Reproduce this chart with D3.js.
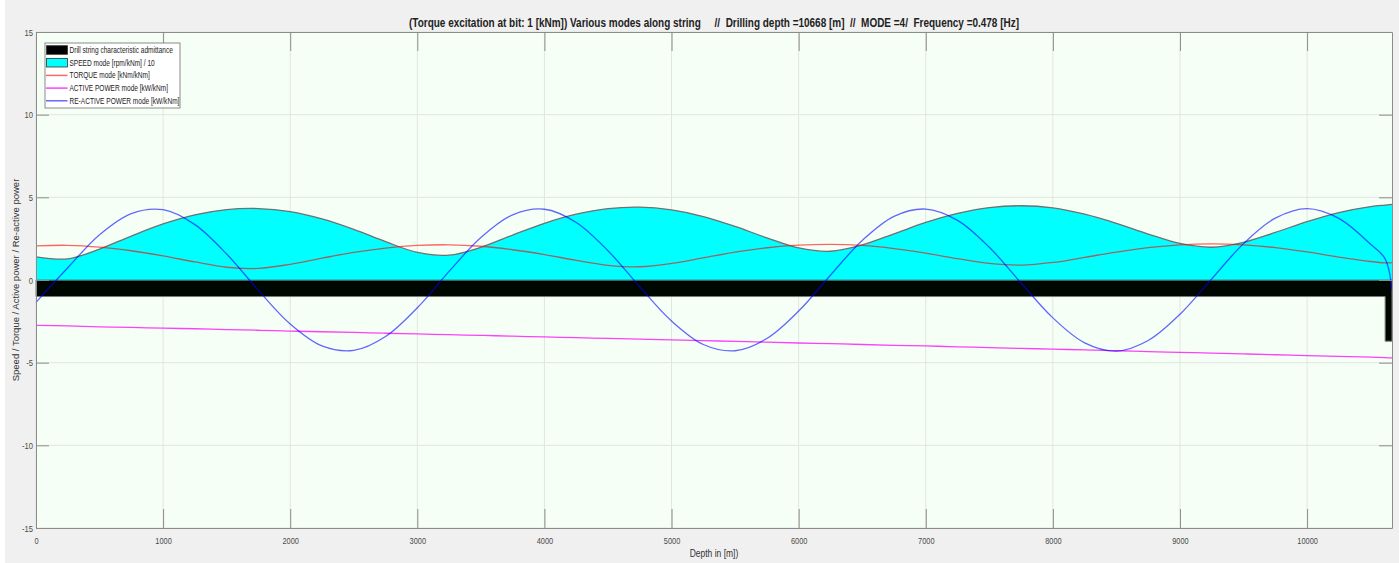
<!DOCTYPE html>
<html>
<head>
<meta charset="utf-8">
<script src="https://cdn.jsdelivr.net/npm/d3@7"></script>
<style>
  body { margin: 0; background: #ffffff; }
  text { font-family: "Liberation Sans Narrow", "Arial Narrow", "Liberation Sans", Arial, sans-serif; }
</style>
</head>
<body>
<script>
// depth along the string [m]
const depth = [0, 250, 500, 750, 1000, 1250, 1500, 1750, 2000, 2250, 2500, 2750, 3000, 3250, 3500, 3750,
  4000, 4250, 4500, 4750, 5000, 5250, 5500, 5750, 6000, 6250, 6500, 6750, 7000, 7250, 7500, 7750,
  8000, 8250, 8500, 8750, 9000, 9250, 9500, 9750, 10000, 10250, 10500, 10614, 10668];

// SPEED mode [rpm/kNm] / 10
const speed = [1.40, 1.28, 1.87, 2.66, 3.39, 3.94, 4.26, 4.32, 4.13, 3.69, 3.06, 2.32, 1.67, 1.50, 1.98, 2.72,
  3.43, 3.98, 4.32, 4.41, 4.24, 3.84, 3.24, 2.55, 1.94, 1.74, 2.12, 2.79, 3.48, 4.03, 4.38, 4.49,
  4.36, 3.98, 3.43, 2.78, 2.21, 1.98, 2.27, 2.88, 3.53, 4.08, 4.44, 4.53, 4.57];

// TORQUE mode [kNm/kNm]
const torque = [2.07, 2.10, 1.99, 1.77, 1.46, 1.09, 0.77, 0.70, 0.95, 1.32, 1.67, 1.93, 2.09, 2.13, 2.04, 1.83,
  1.54, 1.19, 0.89, 0.80, 1.00, 1.34, 1.68, 1.95, 2.11, 2.16, 2.09, 1.90, 1.62, 1.29, 1.00, 0.90,
  1.06, 1.37, 1.69, 1.96, 2.13, 2.19, 2.13, 1.96, 1.70, 1.39, 1.12, 1.04, 1.05];

// ACTIVE POWER mode [kW/kNm]
const activePower = [-2.74, -2.78, -2.83, -2.87, -2.91, -2.95, -3.00, -3.04, -3.09, -3.13, -3.17, -3.22, -3.26, -3.31, -3.35, -3.40,
  -3.44, -3.49, -3.53, -3.58, -3.62, -3.67, -3.71, -3.76, -3.81, -3.85, -3.90, -3.95, -3.99, -4.04, -4.09, -4.14,
  -4.18, -4.23, -4.28, -4.33, -4.38, -4.42, -4.47, -4.52, -4.57, -4.62, -4.67, -4.69, -4.71];

// RE-ACTIVE POWER mode [kW/kNm]
const reactivePower = [-1.35, 0.74, 2.74, 4.02, 4.25, 3.35, 1.57, -0.63, -2.66, -3.99, -4.26, -3.42, -1.68, 0.52, 2.57, 3.94,
  4.28, 3.48, 1.77, -0.41, -2.48, -3.90, -4.28, -3.54, -1.88, 0.29, 2.39, 3.85, 4.29, 3.61, 1.98, -0.18,
  -2.29, -3.80, -4.30, -3.66, -2.07, 0.07, 2.20, 3.74, 4.32, 3.73, 2.16, 1.28, -0.60];

// drill string characteristic admittance (drill pipe, then BHA)
const admDepth = [0, 10614, 10668];
const admittance = [1.0, 3.7, 3.7];

const xTicks = [0, 1000, 2000, 3000, 4000, 5000, 6000, 7000, 8000, 9000, 10000];
const yTicks = [-15, -10, -5, 0, 5, 10, 15];

const legendLabels = [
  'Drill string characteristic admittance',
  'SPEED mode [rpm/kNm] / 10',
  'TORQUE mode [kNm/kNm]',
  'ACTIVE POWER mode [kW/kNm]',
  'RE-ACTIVE POWER mode [kW/kNm]'
];

const titleText = '(Torque excitation at bit: 1 [kNm]) Various modes along string     //  Drilling depth =10668 [m]  //  MODE =4/  Frequency =0.478 [Hz]';

const W = 1399, H = 563;
const mLeft = 36, mRight = 1392, mTop = 32, mBottom = 528;

const svg = d3.select('body').append('svg')
  .attr('width', W)
  .attr('height', H);

// squeeze text horizontally (no narrow font available)
function narrow(sel, k) {
  sel.each(function () {
    const L = this.getComputedTextLength();
    d3.select(this).attr('textLength', L * k).attr('lengthAdjust', 'spacingAndGlyphs');
  });
}

// figure background
svg.append('rect').attr('x', 5).attr('y', 0).attr('width', W - 5).attr('height', H).attr('fill', '#f0f0f0');

const x = d3.scaleLinear().domain([0, 10668]).range([mLeft, mRight]);
const y = d3.scaleLinear().domain([-15, 15]).range([mBottom, mTop]);

// axes background
svg.append('rect')
  .attr('x', mLeft).attr('y', mTop)
  .attr('width', mRight - mLeft).attr('height', mBottom - mTop)
  .attr('fill', '#f6fff6');

// grid
const grid = svg.append('g').attr('stroke', '#dfe6df').attr('stroke-width', 1);
grid.selectAll('.gx').data(xTicks).enter().append('line')
  .attr('x1', d => x(d)).attr('x2', d => x(d))
  .attr('y1', mTop).attr('y2', mBottom);
grid.selectAll('.gy').data(yTicks).enter().append('line')
  .attr('x1', mLeft).attr('x2', mRight)
  .attr('y1', d => y(d)).attr('y2', d => y(d));

const rows = depth.map((d, i) => ({
  d: d, s: speed[i], t: torque[i], p: activePower[i], q: reactivePower[i]
}));
const admRows = admDepth.map((d, i) => ({ d: d, v: admittance[i] }));

const plot = svg.append('g');

// admittance (black block below zero)
plot.append('path')
  .datum(admRows)
  .attr('d', d3.area().x(r => x(r.d)).y0(y(0)).y1(r => y(-r.v)).curve(d3.curveStepAfter))
  .attr('fill', '#000600')
  .attr('stroke', '#7a7a7a')
  .attr('stroke-width', 1);

// speed mode (cyan area)
plot.append('path')
  .datum(rows)
  .attr('d', d3.area().x(r => x(r.d)).y0(y(0)).y1(r => y(r.s)).curve(d3.curveCatmullRom))
  .attr('fill', '#00ffff')
  .attr('stroke', 'none');
plot.append('path')
  .datum(rows)
  .attr('d', d3.line().x(r => x(r.d)).y(r => y(r.s)).curve(d3.curveCatmullRom))
  .attr('fill', 'none')
  .attr('stroke', '#707070')
  .attr('stroke-width', 1.3);
plot.append('line')
  .attr('x1', x(0)).attr('x2', x(10668))
  .attr('y1', y(0)).attr('y2', y(0))
  .attr('stroke', '#3f8a8a').attr('stroke-width', 1);

function drawLine(key, color, op) {
  plot.append('path')
    .datum(rows)
    .attr('d', d3.line().x(r => x(r.d)).y(r => y(r[key])).curve(d3.curveCatmullRom))
    .attr('fill', 'none')
    .attr('stroke', color)
    .attr('stroke-opacity', op)
    .attr('stroke-width', 1.3);
}
drawLine('t', '#ff0000', 0.6);
drawLine('p', '#ff00ff', 0.75);
drawLine('q', '#0000ff', 0.6);

// axes, ticks pointing inward
const axisColor = '#8c8c8c';
const fmt = d => String(d);
const gx = svg.append('g').attr('transform', `translate(0,${mBottom})`)
  .call(d3.axisBottom(x).tickValues(xTicks).tickSizeInner(-19).tickSizeOuter(0).tickPadding(9).tickFormat(fmt));
const gxt = svg.append('g').attr('transform', `translate(0,${mTop})`)
  .call(d3.axisTop(x).tickValues(xTicks).tickSizeInner(-19).tickSizeOuter(0).tickFormat(''));
const gy = svg.append('g').attr('transform', `translate(${mLeft},0)`)
  .call(d3.axisLeft(y).tickValues(yTicks).tickSizeInner(-13).tickSizeOuter(0).tickPadding(3).tickFormat(fmt));
const gyr = svg.append('g').attr('transform', `translate(${mRight},0)`)
  .call(d3.axisRight(y).tickValues(yTicks).tickSizeInner(-13).tickSizeOuter(0).tickFormat(''));

[gx, gxt, gy, gyr].forEach(g => {
  g.select('.domain').attr('stroke', axisColor);
  g.selectAll('.tick line').attr('stroke', axisColor);
  g.selectAll('.tick text').attr('fill', '#4a4a4a').attr('font-size', 9.5)
    .attr('font-family', '"Liberation Sans Narrow", "Liberation Sans", Arial, sans-serif');
});
narrow(gx.selectAll('.tick text'), 0.78);
narrow(gy.selectAll('.tick text'), 0.8);

// title
svg.append('text')
  .attr('x', 714).attr('y', 27)
  .attr('text-anchor', 'middle')
  .attr('font-size', 12.5)
  .attr('font-weight', 'bold')
  .attr('fill', '#222')
  .attr('textLength', 610)
  .attr('lengthAdjust', 'spacingAndGlyphs')
  .style('white-space', 'pre')
  .text(titleText);

// axis labels
svg.append('text')
  .attr('x', 714).attr('y', 557)
  .attr('text-anchor', 'middle')
  .attr('font-size', 10)
  .attr('fill', '#333')
  .text('Depth in [m])')
  .call(narrow, 0.85);

svg.append('text')
  .attr('transform', 'translate(19,280) rotate(-90)')
  .attr('text-anchor', 'middle')
  .attr('font-size', 9.5)
  .attr('fill', '#333')
  .style('font-family', '"Liberation Sans", Arial, sans-serif')
  .text('Speed / Torque / Active power / Re-active power');

// legend
const lg = svg.append('g');
lg.append('rect')
  .attr('x', 45).attr('y', 43).attr('width', 135).attr('height', 65)
  .attr('fill', '#ffffff').attr('stroke', '#8a8a8a').attr('stroke-width', 1);

const legendStyle = [
  { kind: 'patch', fill: '#000000', stroke: '#333' },
  { kind: 'patch', fill: '#00ffff', stroke: '#333' },
  { kind: 'line', stroke: '#ff0000', op: 0.6 },
  { kind: 'line', stroke: '#ff00ff', op: 0.75 },
  { kind: 'line', stroke: '#0000ff', op: 0.6 }
];

legendLabels.forEach((lab, i) => {
  const cy = 50 + i * 12.7;
  const st = legendStyle[i];
  if (st.kind === 'patch') {
    lg.append('rect').attr('x', 46.5).attr('y', cy - 4.3).attr('width', 21).attr('height', 8.6)
      .attr('fill', st.fill).attr('stroke', st.stroke).attr('stroke-width', 0.8);
  } else {
    lg.append('line').attr('x1', 46).attr('x2', 67.5).attr('y1', cy).attr('y2', cy)
      .attr('stroke', st.stroke).attr('stroke-opacity', st.op).attr('stroke-width', 1.5);
  }
  lg.append('text')
    .attr('x', 69.5).attr('y', cy + 2.9)
    .attr('font-size', 8.2)
    .attr('fill', '#222')
    .text(lab)
    .call(narrow, 0.8);
});
</script>
</body>
</html>
